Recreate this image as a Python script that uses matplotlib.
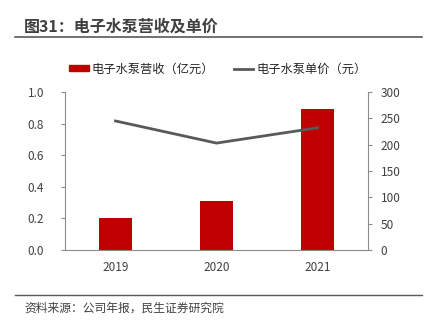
import numpy as np
import matplotlib.pyplot as plt
from matplotlib.lines import Line2D

plt.rcParams['font.family'] = ['Noto Sans CJK SC', 'DejaVu Sans']

years = ['2019', '2020', '2021']
revenue = [0.20, 0.31, 0.89]      # 亿元
unit_price = [245, 203, 232]      # 元

red = '#c00000'
gray = '#595959'
axis_gray = '#8c8c8c'

fig = plt.figure(figsize=(4.29, 3.27), dpi=100)
W, H = 429, 327

ax = fig.add_axes([65 / W, 1 - 250 / H, 303 / W, 158 / H])
x = np.arange(len(years))
ax.bar(x, revenue, width=0.33, color=red, zorder=2)
ax.set_xlim(-0.5, 2.5)
ax.set_ylim(0, 1.0)
ax.set_yticks(np.arange(0, 1.01, 0.2))
ax.set_yticklabels([f'{v:.1f}' for v in np.arange(0, 1.01, 0.2)])
ax.set_xticks(x)
ax.set_xticklabels(years)

ax2 = ax.twinx()
ax2.plot(x, unit_price, color=gray, lw=2, zorder=3)
ax2.set_ylim(0, 300)
ax2.set_yticks(range(0, 301, 50))

for a in (ax, ax2):
    a.spines['top'].set_visible(False)
    for s in ('left', 'right', 'bottom'):
        a.spines[s].set_color(axis_gray)
        a.spines[s].set_linewidth(0.8)
    a.tick_params(axis='y', colors=axis_gray, labelcolor='#404040', labelsize=8.5,
                  length=3, width=0.8, direction='out', pad=12)
ax.tick_params(axis='x', length=0, labelsize=8.5, labelcolor='#404040', pad=8)
ax2.tick_params(axis='y', pad=6)
ax.spines['right'].set_visible(False)
ax2.spines['left'].set_visible(False)
ax2.spines['bottom'].set_visible(False)

handles = [
    plt.Rectangle((0, 0), 1, 1, color=red),
    Line2D([0], [0], color=gray, lw=2),
]
fig.legend(handles, ['电子水泵营收（亿元）', '电子水泵单价（元）'],
           loc='center', bbox_to_anchor=(218 / W, 1 - 69 / H), ncol=2, frameon=False,
           fontsize=8.8, handlelength=1.6, handleheight=0.42, columnspacing=1.6,
           handletextpad=0.25, labelcolor='#262626')

# title and rules
fig.text(24 / W, 1 - 27 / H, '图31：电子水泵营收及单价', fontsize=11.5, fontweight='bold',
         color='#404040', va='center', ha='left')
fig.add_artist(Line2D([15 / W, 422 / W], [1 - 36.5 / H, 1 - 36.5 / H], color='#595959', lw=1.2))
fig.add_artist(Line2D([15 / W, 422 / W], [1 - 295 / H, 1 - 295 / H], color='#595959', lw=1.0))
fig.text(24 / W, 1 - 308 / H, '资料来源：公司年报，民生证券研究院', fontsize=8.5,
         color='#404040', va='center', ha='left')

fig.savefig('out.png', dpi=100)
